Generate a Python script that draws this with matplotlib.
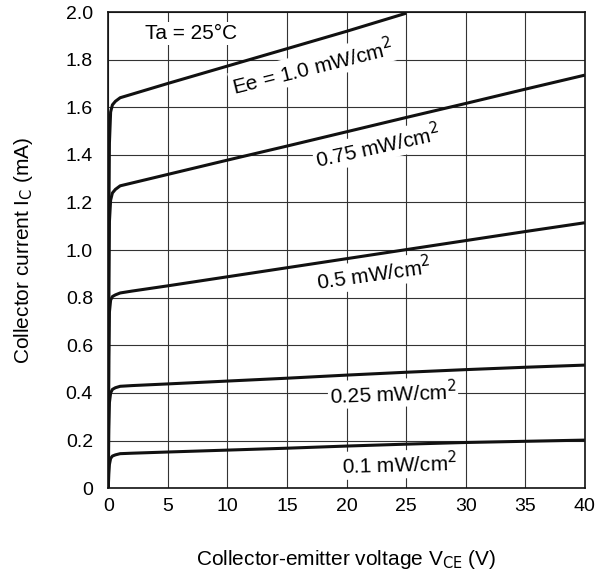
import matplotlib.pyplot as plt
import numpy as np

plt.rcParams['font.family'] = ['Liberation Sans', 'DejaVu Sans']

# V_CE (V) sample points, shared by all curves
vce = [0, 0.05, 0.1, 0.2, 0.35, 0.6, 1.0, 2.0, 5, 10, 15, 20, 25, 30, 35, 40]

# collector current (mA) per irradiance
ic_010 = [0, 0.06, 0.10, 0.125, 0.135, 0.14, 0.145, 0.147, 0.152, 0.160, 0.168, 0.177, 0.185, 0.192, 0.197, 0.202]
ic_025 = [0, 0.25, 0.36, 0.40, 0.415, 0.422, 0.428, 0.431, 0.438, 0.450, 0.462, 0.475, 0.487, 0.498, 0.508, 0.517]
ic_050 = [0, 0.55, 0.74, 0.79, 0.805, 0.812, 0.82, 0.828, 0.850, 0.888, 0.926, 0.964, 1.002, 1.040, 1.078, 1.115]
ic_075 = [0, 0.85, 1.12, 1.21, 1.24, 1.255, 1.27, 1.282, 1.318, 1.378, 1.437, 1.497, 1.557, 1.616, 1.676, 1.735]
ic_100 = [0, 1.10, 1.45, 1.58, 1.61, 1.625, 1.64, 1.655, 1.70, 1.773, 1.846, 1.919, 1.995]

curves = [ic_010, ic_025, ic_050, ic_075, ic_100]

labels = ['0.1 mW/cm$^2$', '0.25 mW/cm$^2$', '0.5 mW/cm$^2$', '0.75 mW/cm$^2$', 'Ee = 1.0 mW/cm$^2$']
label_pos = [(24.45, 0.10), (23.9, 0.40), (22.3, 0.90), (22.6, 1.435), (17.1, 1.77)]
label_rot = [1.5, 2, 8, 12.5, 14]

fig = plt.figure(figsize=(5.98, 5.73), dpi=100)
ax = fig.add_axes([0.181, 0.148, 0.797, 0.831])

for c in curves:
    ax.plot(vce[:len(c)], c, color='#111111', lw=2.2, solid_capstyle='butt', zorder=3)

for t, (x, y), r in zip(labels, label_pos, label_rot):
    ax.text(x, y, t, fontsize=15, rotation=r, ha='center', va='center', zorder=4,
            rotation_mode='anchor',
            bbox=dict(facecolor='white', edgecolor='none', pad=1.0))

ax.text(3.1, 1.91, 'Ta = 25°C', fontsize=15, ha='left', va='center', zorder=4,
        bbox=dict(facecolor='white', edgecolor='none', pad=1.5))

ax.set_xlim(0, 40)
ax.set_ylim(0, 2.0)
ax.set_xticks(np.arange(0, 41, 5))
ax.set_yticks(np.arange(0, 2.01, 0.2))
ax.set_yticklabels(['0'] + ['%.1f' % v for v in np.arange(0.2, 2.01, 0.2)])
ax.grid(True, color='#333333', lw=0.8)
ax.tick_params(length=0, labelsize=14)
ax.tick_params(axis='x', pad=7)
ax.tick_params(axis='y', pad=11)
for s in ax.spines.values():
    s.set_linewidth(1.2)
    s.set_color('#111111')

ax.set_xlabel('Collector-emitter voltage V$_{\\mathrm{CE}}$ (V)', fontsize=15, labelpad=24)
ax.set_ylabel('Collector current I$_\\mathrm{C}$ (mA)', fontsize=15, labelpad=22)

fig.savefig('out.png', dpi=100)
